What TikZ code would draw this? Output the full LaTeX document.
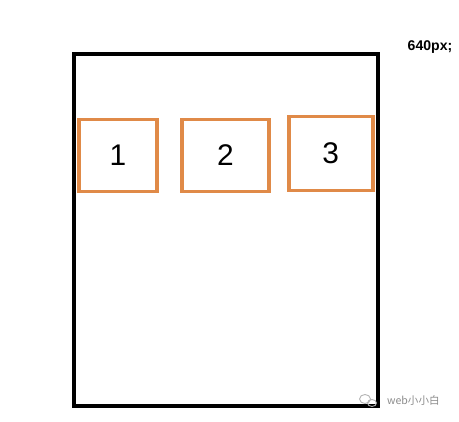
\documentclass[tikz,border=0pt]{standalone}
\usepackage{fontspec}
\setmainfont{Liberation Sans}
\newfontfamily\cjk{Noto Sans CJK SC}
\usetikzlibrary{positioning}
\definecolor{boxorange}{RGB}{224,138,72}

\begin{document}
\begin{tikzpicture}[
        item/.style={draw=boxorange, line width=2.2pt, minimum height=1.44cm, inner sep=0pt, font=\fontsize{17}{17}\selectfont},
        frame/.style={draw, line width=2.3pt},
        wmark/.style={draw=black!30, line width=0.5pt}
    ]
        \useasboundingbox (0,0) rectangle (9.18,8.42);
        % Outer container
        \draw[frame] (1.48,7.34) rectangle (7.56,0.30);
        \node[font=\bfseries\fontsize{8}{8}\selectfont] (width) at (8.6,7.48) {640px;};
        % Items in a row
        \node[item, minimum width=1.56cm] (i1) at (2.36,5.31) {1};
        \node[item, minimum width=1.74cm, right=0.42cm of i1.east, anchor=west] (i2) {2};
        \node[item, minimum width=1.68cm, minimum height=1.48cm, right=0.32cm of i2.east, anchor=west, yshift=0.04cm] (i3) {3};
        % Watermark
        \draw[wmark] (7.30,0.44) ellipse (0.11cm and 0.09cm);
        \draw[wmark] (7.44,0.36) ellipse (0.09cm and 0.07cm);
        \node[text=black!45, font=\cjk\fontsize{6}{6}\selectfont, anchor=west] (wm) at (7.62,0.42) {web小小白};
    \end{tikzpicture}
\end{document}
